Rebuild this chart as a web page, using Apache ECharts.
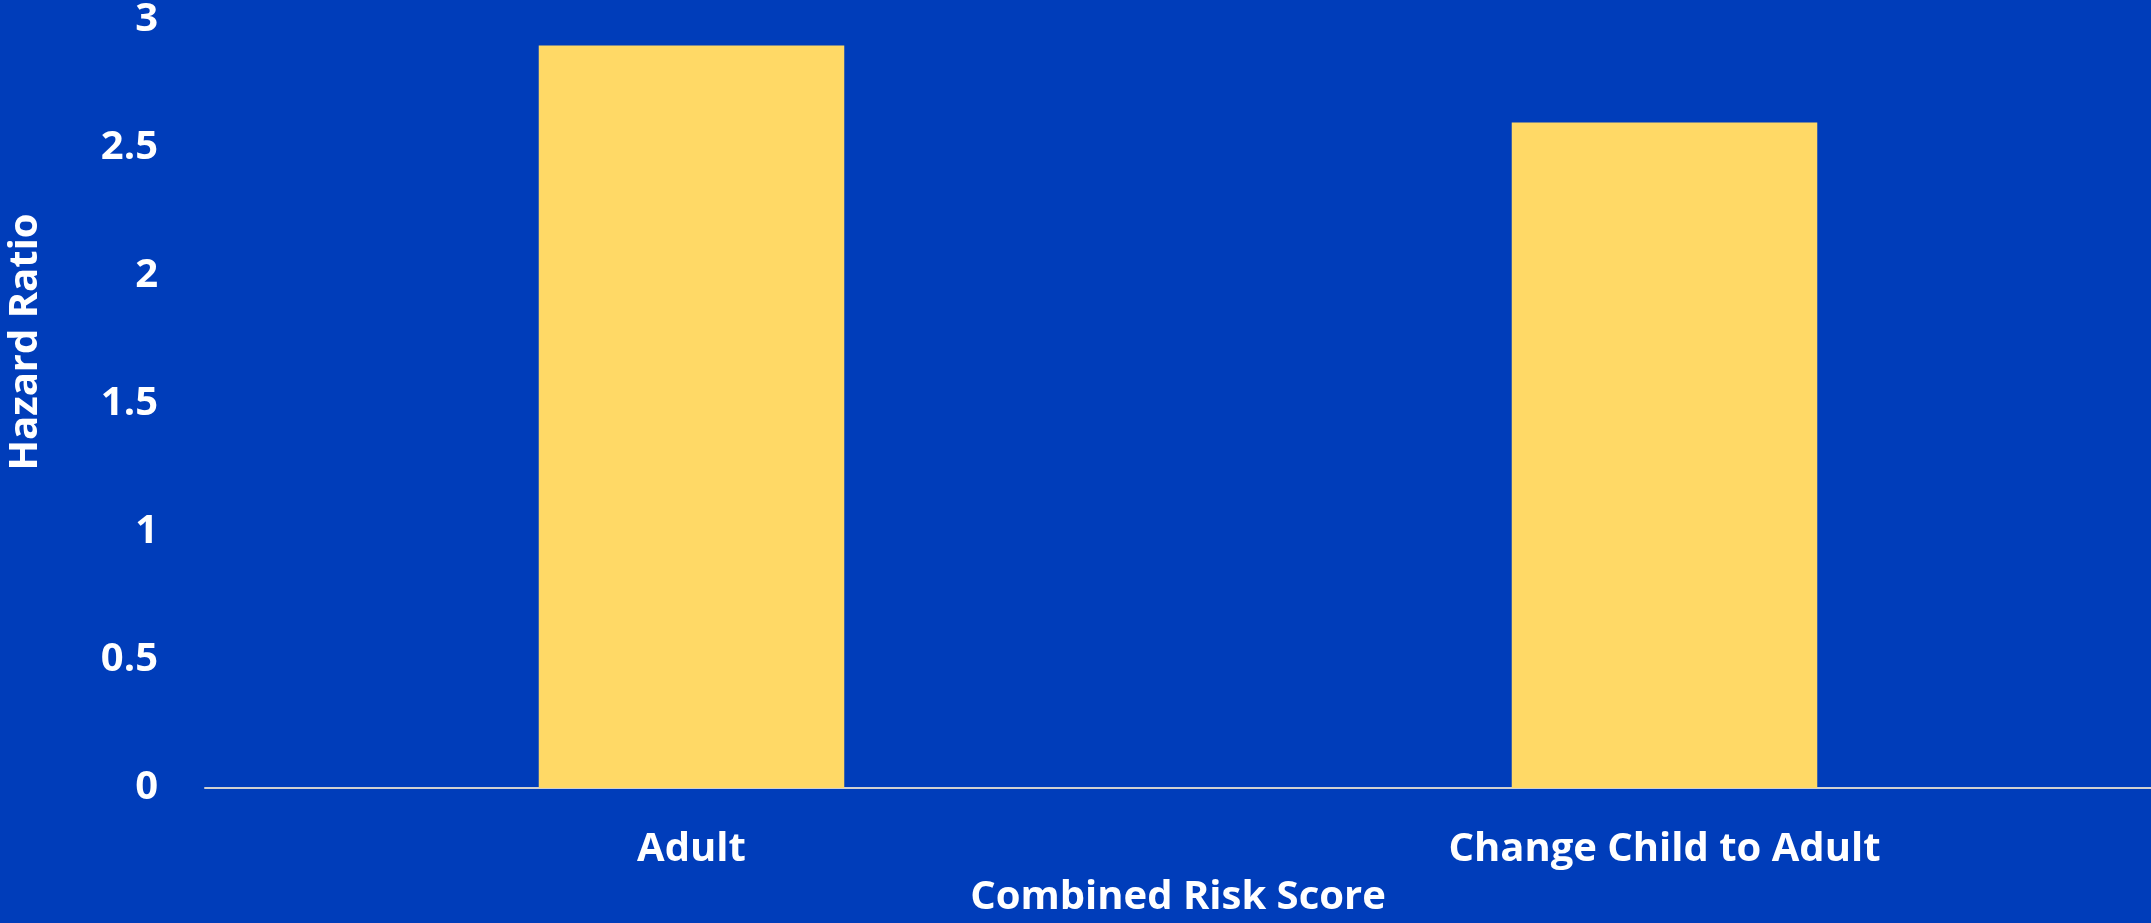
<!DOCTYPE html>
<html>
<head>
<meta charset="utf-8">
<script src="https://cdn.jsdelivr.net/npm/echarts@6/dist/echarts.min.js"></script>
<style>
html,body{margin:0;padding:0;background:#003DBA;}
#chart{width:2151px;height:923px;}
</style>
</head>
<body>
<div id="chart"></div>
<script>
const categories = ['Adult', 'Change Child to Adult'];
const hazardRatios = [2.9, 2.6];
const yTicks = [0, 0.5, 1, 1.5, 2, 2.5, 3];

const chart = echarts.init(document.getElementById('chart'));
const font = '"Open Sans", "Noto Sans", sans-serif';
chart.setOption({
  backgroundColor: '#003DBA',
  animation: false,
  grid: { left: 205, right: 0, top: 20, bottom: 128.5, containLabel: false },
  xAxis: {
    type: 'category',
    data: categories,
    name: 'Combined Risk Score',
    nameLocation: 'middle',
    nameGap: 90,
    nameTextStyle: { color: '#FFFFFF', fontSize: 40, fontWeight: 'bold', fontFamily: font },
    axisLine: { lineStyle: { color: '#D0D0D0', width: 2 } },
    axisTick: { show: false },
    axisLabel: { color: '#FFFFFF', fontSize: 40, fontWeight: 'bold', fontFamily: font, margin: 42 }
  },
  yAxis: {
    type: 'value',
    min: yTicks[0],
    max: yTicks[yTicks.length - 1],
    interval: 0.5,
    splitLine: { show: false },
    axisLine: { show: false },
    axisTick: { show: false },
    axisLabel: { color: '#FFFFFF', fontSize: 40, fontWeight: 'bold', fontFamily: font, margin: 47 }
  },
  graphic: [{
    type: 'text',
    x: 26,
    y: 342,
    rotation: Math.PI / 2,
    style: {
      text: 'Hazard Ratio',
      fill: '#FFFFFF',
      font: 'bold 40px "Open Sans", "Noto Sans", sans-serif',
      align: 'center',
      verticalAlign: 'middle'
    }
  }],
  series: [{
    type: 'bar',
    data: hazardRatios,
    barWidth: '31.4%',
    itemStyle: { color: '#FFD966' }
  }]
});
</script>
</body>
</html>
